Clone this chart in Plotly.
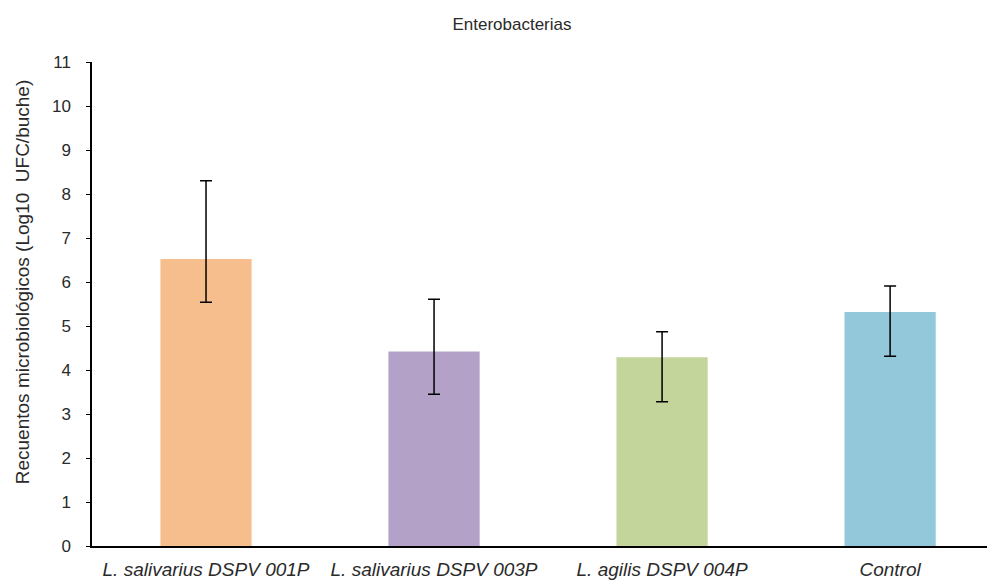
import plotly.graph_objects as go

categories = ["L. salivarius DSPV 001P", "L. salivarius DSPV 003P", "L. agilis DSPV 004P", "Control"]
means = [6.52, 4.42, 4.29, 5.32]
err_plus = [1.78, 1.19, 0.58, 0.59]
err_minus = [0.98, 0.97, 1.01, 1.01]
colors = ["#F6BE8C", "#B3A1C8", "#C3D59B", "#93C7DA"]
y_ticks = list(range(0, 12))
title_text = "Enterobacterias"
y_title = "Recuentos microbiológicos (Log10  UFC/buche)"

FONT = "Liberation Sans, Arial, sans-serif"
TXT = "#2a2a2a"

fig = go.Figure()
fig.add_trace(go.Bar(
    x=list(range(len(categories))),
    y=means,
    marker=dict(color=colors, line=dict(width=0)),
    error_y=dict(type="data", symmetric=False, array=err_plus, arrayminus=err_minus,
                 color="black", thickness=1.5, width=6),
    width=0.4,
    hoverinfo="y",
))

fig.update_layout(
    width=995, height=585,
    margin=dict(l=84, r=8, t=54, b=47),
    paper_bgcolor="white", plot_bgcolor="white",
    showlegend=False,
    title=dict(text=title_text, x=0.5065, xanchor="center", y=0.972, yanchor="middle",
               font=dict(family=FONT, size=17, color=TXT)),
    font=dict(family=FONT, color=TXT),
    xaxis=dict(
        range=[-0.5, 3.46],
        tickmode="array", tickvals=list(range(len(categories))),
        ticktext=["<i>" + c + "</i>" for c in categories],
        showline=True, linecolor="black", linewidth=2,
        ticks="", showgrid=False, zeroline=False,
        ticklabelstandoff=5,
        tickfont=dict(size=19, family=FONT, color=TXT),
    ),
    yaxis=dict(
        range=[0, 11], tickmode="array", tickvals=y_ticks,
        showline=True, linecolor="black", linewidth=1.5,
        ticks="outside", ticklen=4, tickcolor="black", tickwidth=1.2,
        ticklabelstandoff=12,
        showgrid=False, zeroline=False,
        tickfont=dict(size=17, family=FONT, color=TXT),
    ),
    yaxis2=dict(
        range=[0, 11], tickmode="array", tickvals=y_ticks,
        overlaying="y", side="left", anchor="x",
        showline=False, ticks="inside", ticklen=4, tickcolor="black", tickwidth=1.2,
        showticklabels=False, showgrid=False, zeroline=False,
    ),
)

fig.add_annotation(
    text=y_title, textangle=-90,
    xref="paper", yref="paper", x=-0.0775, y=0.545,
    xanchor="center", yanchor="middle", showarrow=False,
    font=dict(family=FONT, size=19, color=TXT),
)

fig.write_html("out.html")
